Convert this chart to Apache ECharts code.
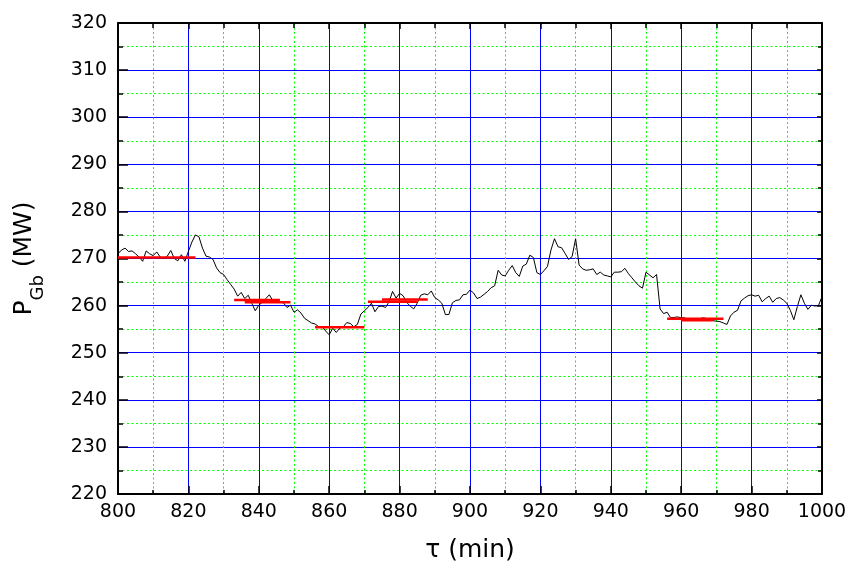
<!DOCTYPE html>
<html>
<head>
<meta charset="utf-8">
<script src="https://cdn.jsdelivr.net/npm/echarts@6/dist/echarts.min.js"></script>
<style>html,body{margin:0;padding:0;background:#fff}#c{width:846px;height:567px}</style>
</head>
<body>
<div id="c"></div>
<script>
// time axis: one sample per minute from 800 to 1000
const tStart = 800;
const tStep = 1;
// measured P_Gb (MW), one value per minute
const powerValues = [
271.0,271.8,272.2,271.5,271.6,271.0,270.3,269.4,271.6,271.0,
270.6,271.4,270.3,270.0,270.5,271.7,270.0,269.5,270.8,269.4,
271.5,273.5,275.0,274.6,272.2,270.5,270.3,269.8,268.0,267.0,
266.6,265.5,264.5,263.5,262.0,262.8,261.5,262.2,260.5,258.9,
260.1,260.7,261.5,262.3,261.0,260.7,260.7,260.6,259.6,260.1,
258.6,259.1,258.4,257.3,256.8,256.3,256.1,255.5,255.5,254.6,
253.8,255.2,254.3,255.2,255.5,256.4,256.2,255.5,256.0,258.2,
258.9,259.6,260.5,258.7,259.8,259.9,259.6,260.8,263.0,261.6,
262.6,262.1,260.7,259.9,259.3,260.5,262.2,262.5,262.3,263.1,
261.7,261.2,260.5,258.1,258.1,260.6,261.1,261.2,262.3,262.4,
263.3,262.7,261.5,261.8,262.4,263.0,263.8,264.2,267.5,266.5,
266.3,267.5,268.5,267.0,266.2,268.4,268.8,270.7,270.2,267.0,
266.6,267.4,268.3,271.8,274.2,272.5,272.3,271.1,269.8,270.4,
274.2,268.6,267.8,267.5,267.6,267.8,266.6,267.1,266.5,266.3,
266.1,267.1,267.1,267.2,267.9,266.8,265.9,265.0,264.2,263.7,
267.1,266.5,265.9,266.6,259.3,258.3,258.6,257.4,257.5,257.6,
257.4,257.4,257.0,257.0,257.0,257.1,257.4,257.3,257.0,256.8,
256.7,256.6,256.3,256.0,257.8,258.6,259.0,261.0,261.6,262.1,
262.3,262.0,262.2,260.8,261.5,262.0,260.7,261.5,261.7,261.2,
260.5,259.0,257.0,259.8,262.3,260.5,259.2,260.1,259.9,260.0,
261.9
];
// mean-level segments: [start time, end time, level]
const meanSegments = [
  [800, 822, 270.2],
  [833, 846, 261.2],
  [836, 849, 260.7],
  [856, 870, 255.4],
  [871, 885, 260.8],
  [875, 888, 261.3],
  [956, 972, 257.2],
  [960, 969, 256.9]
];
const xTicks = [800, 820, 840, 860, 880, 900, 920, 940, 960, 980, 1000];
const yTicks = [220, 230, 240, 250, 260, 270, 280, 290, 300, 310, 320];

const lineData = powerValues.map((v, i) => [tStart + i * tStep, v]);
const seriesList = [{
  type: 'line', data: lineData, showSymbol: false, symbol: 'none',
  lineStyle: { color: '#000', width: 1 }, z: 3, animation: false
}];
meanSegments.forEach(s => {
  seriesList.push({
    type: 'line', data: [[s[0], s[2]], [s[1], s[2]]], showSymbol: false, symbol: 'none',
    lineStyle: { color: '#ff0000', width: 2.5 }, z: 4, animation: false
  });
});

const font = 'DejaVu Sans, Verdana, sans-serif';
const chart = echarts.init(document.getElementById('c'));
chart.setOption({
  animation: false,
  backgroundColor: '#fff',
  grid: { left: 118, right: 24, top: 23, bottom: 73, containLabel: false, outerBoundsMode: 'none' },
  xAxis: [{
    type: 'value', min: xTicks[0], max: xTicks[xTicks.length - 1], interval: 20,
    position: 'bottom',
    name: 'τ (min)', nameLocation: 'middle', nameGap: 44,
    nameTextStyle: { fontSize: 25, color: '#000', fontFamily: font },
    axisLine: { show: true, onZero: false, lineStyle: { color: '#000', width: 2 } },
    axisTick: { show: true, inside: true, length: 8, lineStyle: { color: '#000', width: 1.5 } },
    minorTick: { show: true, splitNumber: 2, length: 4, lineStyle: { color: '#000', width: 1.5 } },
    axisLabel: { fontSize: 19, color: '#000', fontFamily: font, margin: 9, formatter: v => String(v) },
    splitLine: { show: true, lineStyle: { color: '#0000ff', width: 1 } },
    minorSplitLine: { show: true, lineStyle: { color: '#00ff00', width: 1, type: [2, 2.5] } }
  }, {
    type: 'value', min: xTicks[0], max: xTicks[xTicks.length - 1], interval: 20,
    position: 'top',
    axisLine: { show: true, onZero: false, lineStyle: { color: '#000', width: 2 } },
    axisTick: { show: true, inside: true, length: 6, lineStyle: { color: '#000', width: 1.5 } },
    minorTick: { show: true, splitNumber: 2, length: 5, lineStyle: { color: '#000', width: 1.5 } },
    axisLabel: { show: false },
    splitLine: { show: false }
  }],
  yAxis: [{
    type: 'value', min: yTicks[0], max: yTicks[yTicks.length - 1], interval: 10,
    position: 'left',
    name: '{p|P}{s|Gb}{p| (MW)}', nameLocation: 'middle', nameGap: 78, nameRotate: 90,
    nameTextStyle: {
      color: '#000', fontFamily: font,
      rich: {
        p: { fontSize: 25, fontFamily: font, color: '#000', lineHeight: 28, verticalAlign: 'top' },
        s: { fontSize: 18, fontFamily: font, color: '#000', lineHeight: 18, padding: [17, 0, 0, 0], verticalAlign: 'top' }
      }
    },
    axisLine: { show: true, onZero: false, lineStyle: { color: '#000', width: 2 } },
    axisTick: { show: true, inside: true, length: 10, lineStyle: { color: '#000', width: 1.5 } },
    minorTick: { show: true, splitNumber: 2, length: 5, lineStyle: { color: '#000', width: 1.5 } },
    axisLabel: { fontSize: 19, color: '#000', fontFamily: font, margin: 11 },
    splitLine: { show: true, lineStyle: { color: '#0000ff', width: 1 } },
    minorSplitLine: { show: true, lineStyle: { color: '#00ff00', width: 1, type: [2, 2.5] } }
  }, {
    type: 'value', min: yTicks[0], max: yTicks[yTicks.length - 1], interval: 10,
    position: 'right',
    axisLine: { show: true, onZero: false, lineStyle: { color: '#000', width: 2 } },
    axisTick: { show: true, inside: true, length: 5, lineStyle: { color: '#000', width: 1.5 } },
    minorTick: { show: true, splitNumber: 2, length: 4, lineStyle: { color: '#000', width: 1.5 } },
    axisLabel: { show: false },
    splitLine: { show: false }
  }],
  series: seriesList
});
</script>
</body>
</html>
